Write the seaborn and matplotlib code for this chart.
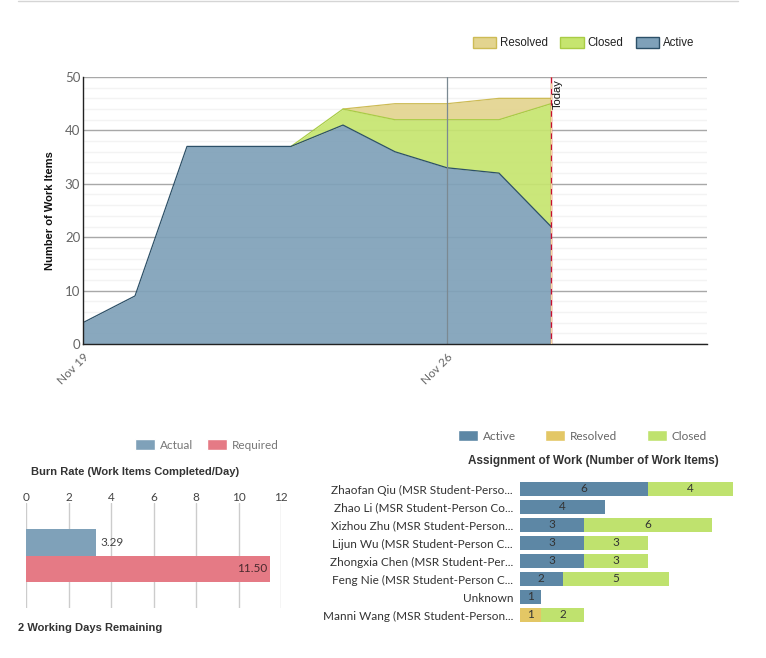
import numpy as np
import pandas as pd
import matplotlib
matplotlib.use('Agg')
import matplotlib.pyplot as plt
from matplotlib.patches import Patch
import seaborn as sns

# burndown, counts per day from Nov 19
days = [0, 1, 2, 3, 4, 5, 6, 7, 8, 9]
active = [4, 9, 37, 37, 37, 41, 36, 33, 32, 22]
closed = [0, 0, 0, 0, 0, 3, 6, 9, 10, 23]
resolved = [0, 0, 0, 0, 0, 0, 3, 3, 4, 1]
date_ticks = [0, 7]
date_labels = ['Nov 19', 'Nov 26']
today = 9

# burn rate
burn_names = ['Actual', 'Required']
burn_values = [3.29, 11.50]

# assignment
people = ['Zhaofan Qiu (MSR Student-Perso...', 'Zhao Li (MSR Student-Person Co...',
          'Xizhou Zhu (MSR Student-Person...', 'Lijun Wu (MSR Student-Person C...',
          'Zhongxia Chen (MSR Student-Per...', 'Feng Nie (MSR Student-Person C...',
          'Unknown', 'Manni Wang (MSR Student-Person...']
people_active = [6, 4, 3, 3, 3, 2, 1, 0]
people_resolved = [0, 0, 0, 0, 0, 0, 0, 1]
people_closed = [4, 0, 6, 3, 3, 5, 0, 2]

W, H = 766, 658
BLUE, BLUE_EDGE = '#7FA1B9', '#2C5068'
GREEN, GREEN_EDGE = '#C6E56F', '#A9CC45'
TAN, TAN_EDGE = '#E3D48F', '#CDBB55'
BAR_BLUE, BAR_TAN, BAR_GREEN = '#5D87A5', '#E3C765', '#BFE26E'
RED = '#E57A85'

sns.set_theme(style='white')
plt.rcParams['font.family'] = ['Lato', 'DejaVu Sans']


def make_axes(left, top, right, bottom):
    return fig.add_axes([left / W, 1 - bottom / H, (right - left) / W, (bottom - top) / H])


fig = plt.figure(figsize=(W / 100, H / 100), dpi=100)

# rule at the very top of the page
fig.add_artist(plt.Line2D([18 / W, 738 / W], [1 - 1 / H, 1 - 1 / H], color='#d5d5d5', lw=1))

# BURNDOWN
ax = make_axes(83, 77, 707, 344)
df = pd.DataFrame({'day': days, 'active': active, 'closed': closed, 'resolved': resolved})
df['closed_top'] = df['active'] + df['closed']
df['resolved_top'] = df['closed_top'] + df['resolved']

ax.fill_between(df['day'], 0, df['active'], color=BLUE, alpha=0.92, lw=0, zorder=3)
ax.fill_between(df['day'], df['active'], df['closed_top'], color=GREEN, alpha=0.92, lw=0, zorder=3)
ax.fill_between(df['day'], df['closed_top'], df['resolved_top'], color=TAN, alpha=0.92, lw=0, zorder=3)
sns.lineplot(data=df[df['day'] >= 5], x='day', y='resolved_top', color=TAN_EDGE, lw=0.9, ax=ax, zorder=4)
sns.lineplot(data=df[df['day'] >= 4], x='day', y='closed_top', color=GREEN_EDGE, lw=0.9, ax=ax, zorder=4)
sns.lineplot(data=df, x='day', y='active', color=BLUE_EDGE, lw=0.9, ax=ax, zorder=5)

ax.set_xlim(0, 12)
ax.set_ylim(0, 50)
ax.set_yticks(range(0, 51, 10))
ax.set_yticks(range(0, 51, 2), minor=True)
ax.grid(True, which='minor', axis='y', color='#f3f3f3', lw=1, zorder=1)
ax.grid(True, which='major', axis='y', color='#a8a8a8', lw=1, zorder=2)
ax.set_xticks(date_ticks)
ax.set_xticklabels(date_labels, rotation=45, ha='right', rotation_mode='anchor', color='#666666', fontsize=8.5)
ax.axvline(date_ticks[1], color='#7b8992', lw=0.9, zorder=6)
ax.tick_params(axis='y', which='major', labelcolor='#666666', labelsize=9.5, length=0, pad=2)
ax.tick_params(axis='y', which='minor', length=0)
ax.tick_params(axis='x', length=0, pad=5)
ax.set_xlabel('')
ax.set_ylabel('Number of Work Items', fontsize=8, fontweight='bold', family='Liberation Sans',
              color='#111111', labelpad=7)
for s in ['top', 'right']:
    ax.spines[s].set_visible(False)
for s in ['left', 'bottom']:
    ax.spines[s].set_color('#222222')
    ax.spines[s].set_linewidth(1)
    ax.spines[s].set_zorder(7)

ax.axvline(today, color='#c8102e', lw=1, zorder=7)
ax.axvline(today, color='#f4d8a0', lw=1, ls=(0, (4, 4)), zorder=8)
ax.text(today + 0.04, 49.6, 'Today', rotation=90, va='top', ha='left', fontsize=8,
        family='Liberation Sans', color='#111111', zorder=9)

fig.legend(handles=[Patch(facecolor=TAN, edgecolor=TAN_EDGE, label='Resolved'),
                    Patch(facecolor=GREEN, edgecolor=GREEN_EDGE, label='Closed'),
                    Patch(facecolor=BLUE, edgecolor=BLUE_EDGE, label='Active')],
           loc='center right', bbox_to_anchor=(694 / W, 1 - 43 / H), ncol=3, frameon=False,
           prop={'family': 'Liberation Sans', 'size': 8.3}, labelcolor='#222222', borderpad=0, borderaxespad=0,
           handlelength=2.0, handleheight=1.1, handletextpad=0.35, columnspacing=1.05)

# BURN RATE
ax2 = make_axes(26, 503, 281, 608)
sns.barplot(x=burn_values, y=burn_names, hue=burn_names, palette=[BLUE, RED], dodge=False,
            width=1.0, legend=False, saturation=1, linewidth=0, ax=ax2, zorder=3)
ax2.set_xlim(0, 12)
ax2.set_ylim(0.5 + 1.98, 0.5 - 1.98)
ax2.xaxis.tick_top()
ax2.set_xticks(range(0, 13, 2))
ax2.grid(True, axis='x', color='#cccccc', lw=1, zorder=1)
ax2.grid(False, axis='y')
ax2.set_yticks([])
ax2.set_ylabel('')
ax2.tick_params(axis='x', length=0, pad=0, labelsize=8.5, labelcolor='#444444')
sns.despine(ax=ax2, left=True, bottom=True, top=True, right=True)
ax2.text(burn_values[0] + 0.2, 0, '%.2f' % burn_values[0], va='center', ha='left', fontsize=8.5, color='#444444')
ax2.text(burn_values[1] - 0.85, 1, '%.2f' % burn_values[1], va='center', ha='center', fontsize=8.5, color='#4a2a2e', zorder=5)

fig.legend(handles=[Patch(facecolor=BLUE, label=burn_names[0]), Patch(facecolor=RED, label=burn_names[1])],
           loc='center', bbox_to_anchor=(207 / W, 1 - 445 / H), ncol=2, frameon=False,
           prop={'size': 8.5}, labelcolor='#777777', borderpad=0, borderaxespad=0,
           handlelength=1.7, handleheight=1.1, handletextpad=0.42, columnspacing=1.2)
fig.text(31 / W, 1 - 472 / H, 'Burn Rate (Work Items Completed/Day)', fontsize=8, fontweight='bold',
         family='Liberation Sans', color='#333333', va='center')
fig.text(18 / W, 1 - 628 / H, '2 Working Days Remaining', fontsize=8, fontweight='bold',
         family='Liberation Sans', color='#333333', va='center')

# ASSIGNMENT
ax3 = make_axes(520, 480, 733, 624)
people_df = pd.DataFrame({'person': people, 'active': people_active,
                          'resolved': people_resolved, 'closed': people_closed})
left = np.zeros(len(people))
for col, c in [('active', BAR_BLUE), ('resolved', BAR_TAN), ('closed', BAR_GREEN)]:
    sns.barplot(data=people_df, y='person', x=col, color=c, width=0.83, left=left,
                saturation=1, linewidth=0, ax=ax3, zorder=3)
    for i, v in enumerate(people_df[col]):
        if v > 0:
            ax3.text(left[i] + v / 2, i, str(v), ha='center', va='center', fontsize=8.5,
                     color='#333333', zorder=5)
    left = left + people_df[col].values
ax3.set_xlim(0, 10)
ax3.set_ylim(7.5, -0.5)
ax3.set_xticks([])
ax3.set_xlabel('')
ax3.set_ylabel('')
ax3.tick_params(axis='y', length=0, pad=5, labelsize=8.5, labelcolor='#333333')
sns.despine(ax=ax3, left=True, bottom=True)

fig.legend(handles=[Patch(facecolor=BAR_BLUE, label='Active'), Patch(facecolor=BAR_TAN, label='Resolved'),
                    Patch(facecolor=BAR_GREEN, label='Closed')],
           loc='center', bbox_to_anchor=(582.5 / W, 1 - 436 / H), ncol=3, frameon=False,
           prop={'size': 8.5}, labelcolor='#666666', borderpad=0, borderaxespad=0,
           handlelength=1.7, handleheight=1.1, handletextpad=0.42, columnspacing=2.45)
fig.text(593 / W, 1 - 461 / H, 'Assignment of Work (Number of Work Items)', fontsize=8.45, fontweight='bold',
         family='Liberation Sans', color='#333333', va='center', ha='center')

fig.savefig('out.png', dpi=100)
